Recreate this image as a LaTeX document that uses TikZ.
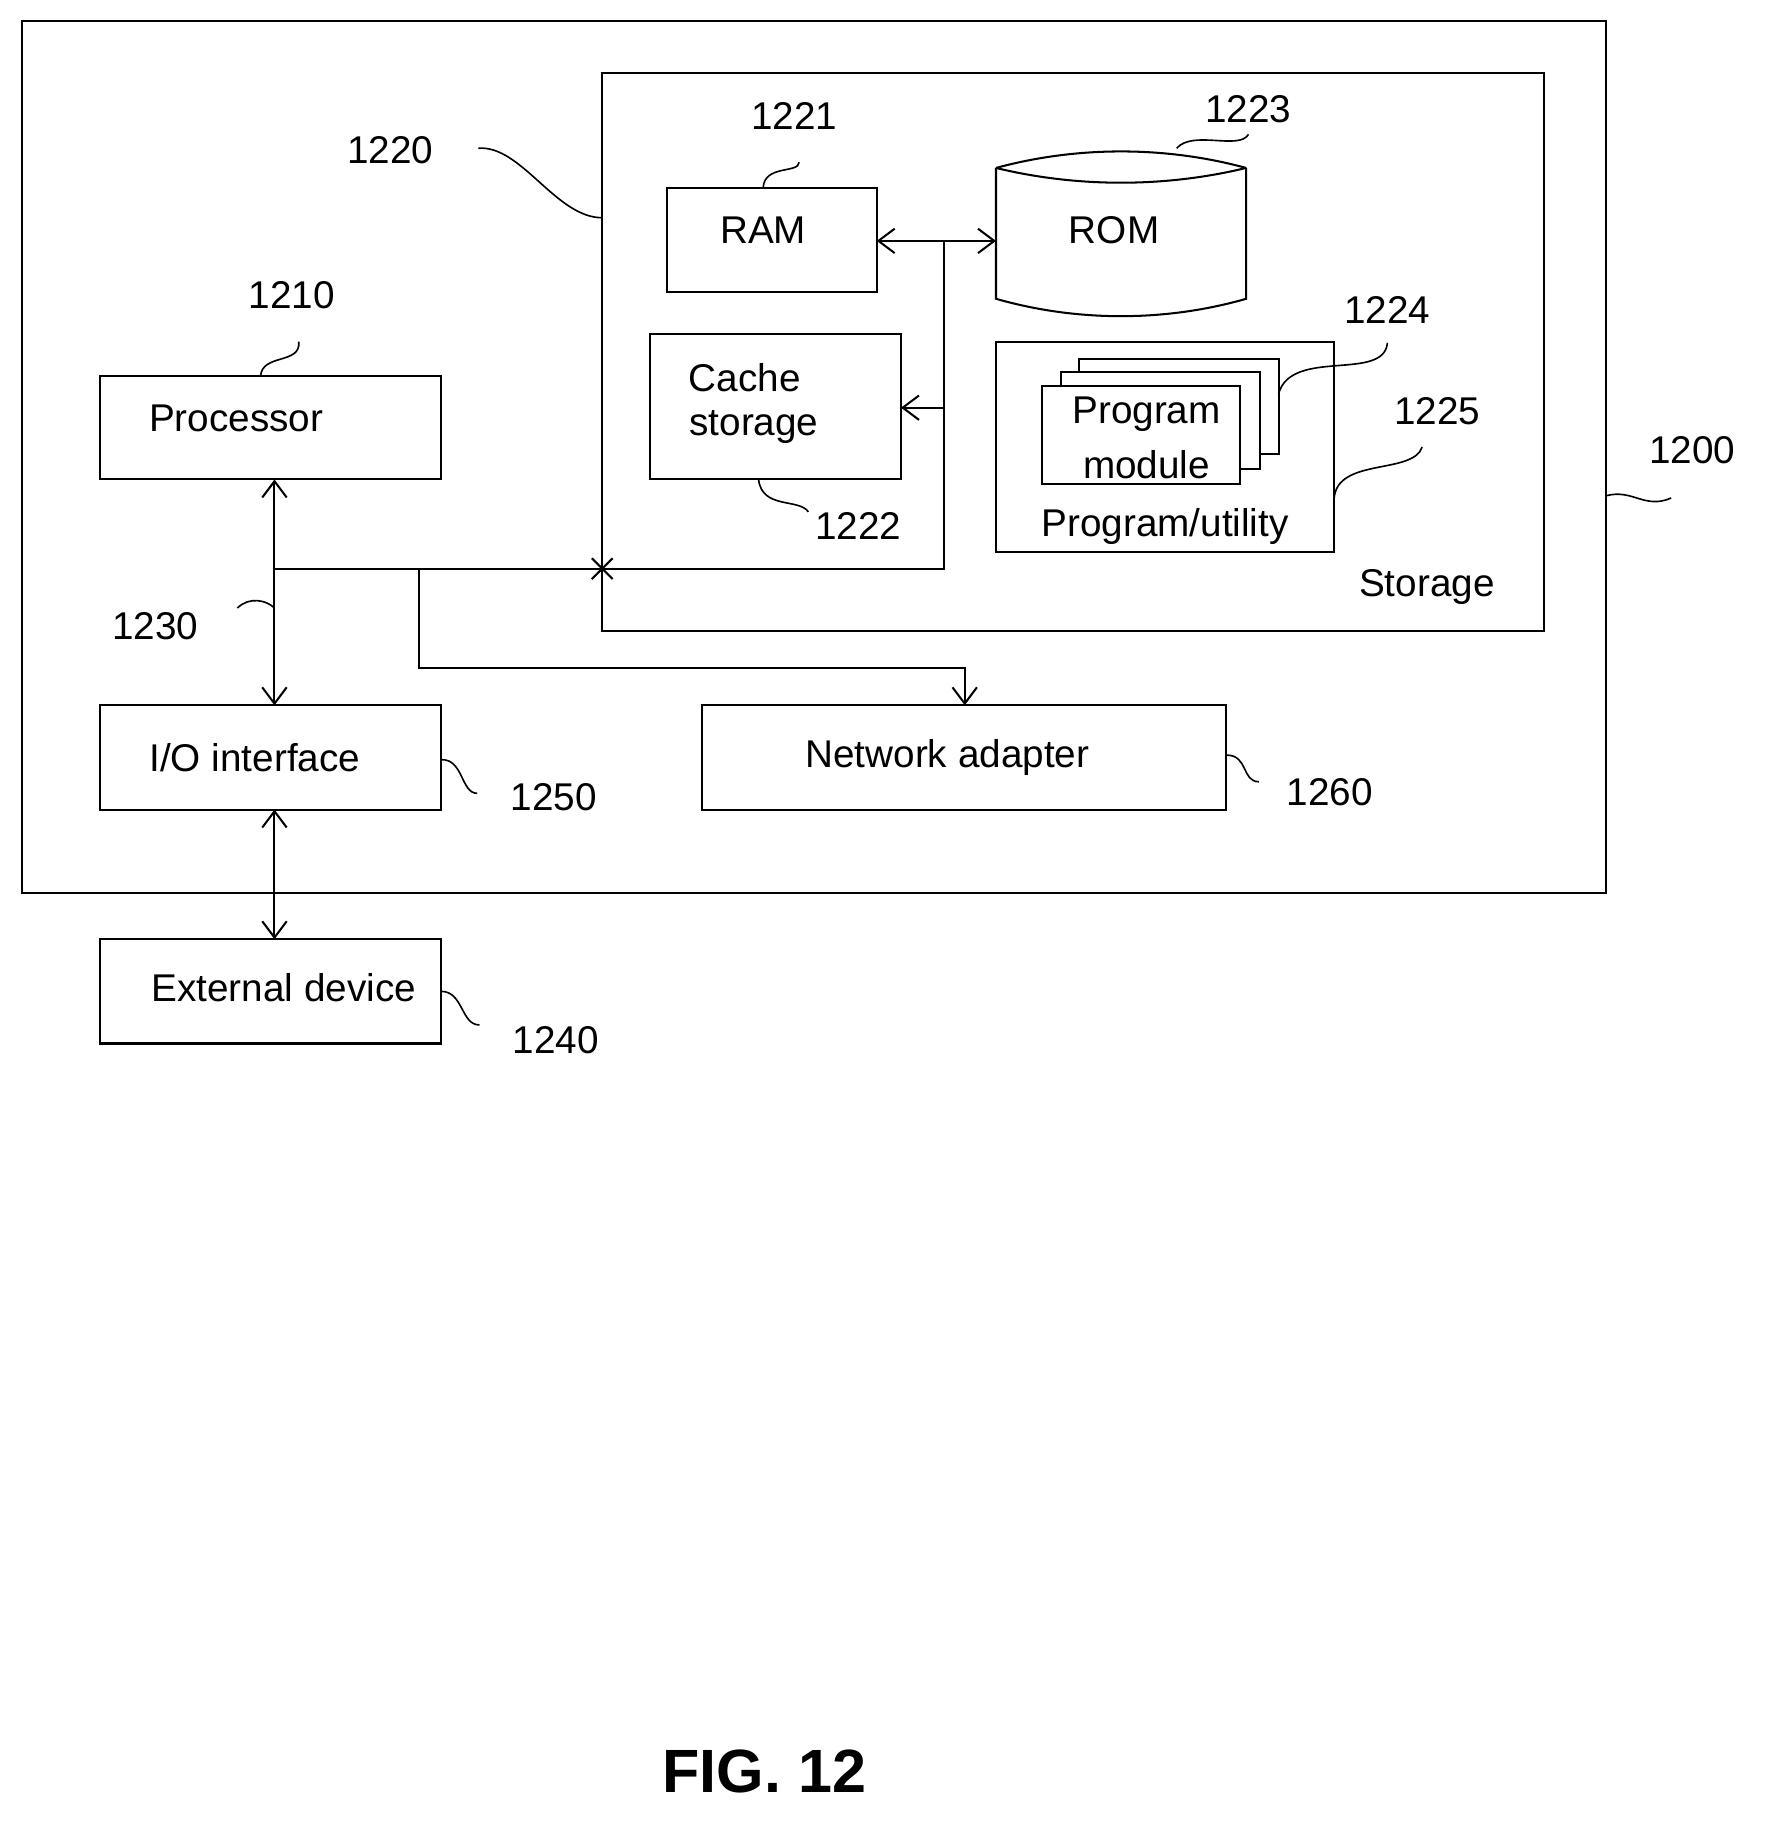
\documentclass[tikz,border=0pt]{standalone}
\usepackage{fontspec}
\setmainfont{Liberation Sans}
\usetikzlibrary{arrows.meta,calc}
\begin{document}
\begin{tikzpicture}[x=0.01cm,y=-0.01cm,
  box/.style={draw,line width=0.5pt},
  txt/.style={font=\fontsize{9.5}{11}\selectfont,inner sep=0pt},
  lbl/.style={font=\fontsize{9.5}{11}\selectfont,inner sep=0pt},
  lead/.style={line width=0.4pt},
  ln/.style={line width=0.5pt},
  arr/.style={ln,-{Straight Barb[length=4pt,width=6pt]}},
  darr/.style={ln,{Straight Barb[length=4pt,width=6pt]}-{Straight Barb[length=4pt,width=6pt]}}]
\useasboundingbox (0,0) rectangle (1530,1581);
% frames
\draw[box] (19,18) rectangle (1387,771);
\draw[box] (520,63) rectangle (1333,545);
\node[txt] (stl) at (1232,507) {Storage};
% boxes
\draw[box] (576,162) rectangle (757,252);
\coordinate (ramR) at (757,208);
\node[txt] (ramt) at (659,199) {RAM};
\draw[box] (561,288) rectangle (778,414);
\coordinate (cacheR) at (778,352);
\node[txt] (cache1) at (643,326) {Cache};
\node[txt] (cache2) at (651,369) {storage};
% ROM
\draw[box] (860,145) -- (860,258) .. controls (930,278) and (1006,278) .. (1076,258) -- (1076,145);
\draw[box] (860,145) .. controls (930,126) and (1006,126) .. (1076,145);
\draw[box] (860,145) .. controls (930,162) and (1006,162) .. (1076,145);
\coordinate (romL) at (860,208);
\node[txt] (romt) at (962,199) {ROM};
% program/utility
\draw[box] (860,295) rectangle (1152,477);
\draw[box,fill=white] (932,310) rectangle (1104,392);
\draw[box,fill=white] (916,321) rectangle (1088,405);
\draw[box,fill=white] (900,333) rectangle (1071,418);
\node[txt] (pm1) at (990,358) {Program};
\node[txt] (pm2) at (990,401) {module};
\node[txt] (pu) at (1006,455) {Program/utility};
% left boxes
\draw[box] (86,325) rectangle (381,414);
\node[txt] (proc) at (204,361) {Processor};
\draw[box] (86,609) rectangle (381,699);
\node[txt] (io) at (220,654) {I/O interface};
\draw[box] (86,811) rectangle (381,901);
\node[txt] (ext) at (245,853) {External device};
\draw[box] (606,609) rectangle (1059,699);
\node[txt] (net) at (818,654) {Network adapter};
% bus
\coordinate (procB) at (237,414);
\coordinate (ioT) at (237,609);
\coordinate (ioB) at (237,699);
\coordinate (extT) at (237,811);
\coordinate (netT) at (833,609);
\coordinate (busJ) at (237,491);
\coordinate (busE) at (815,491);
\coordinate (busTop) at (815,208);
\coordinate (cross) at (520,491);
\draw[darr] (ramR) -- (romL);
\draw[ln] (busTop) -- (busE) -- (busJ);
\draw[arr] (815,352) -- (cacheR);
\draw[darr] (procB) -- (ioT);
\draw[darr] (ioB) -- (extT);
\draw[arr] (362,491) -- (362,577) -- (833,577) -- (netT);
\draw[ln] ($(cross)+(-9,-9)$) -- ($(cross)+(9,9)$);
\draw[ln] ($(cross)+(-9,9)$) -- ($(cross)+(9,-9)$);
% labels
\node[lbl] (l1220) at (337,130) {1220};
\draw[lead] (413,128) .. controls (450,125) and (480,188) .. (520,188);
\node[lbl] (l1221) at (686,100) {1221};
\draw[lead] (690,140) .. controls (690,150) and (660,142) .. (659,162);
\node[lbl] (l1223) at (1078,94) {1223};
\draw[lead] (1078,116) .. controls (1070,130) and (1030,112) .. (1016,128);
\node[lbl] (l1210) at (252,255) {1210};
\draw[lead] (258,295) .. controls (260,315) and (226,305) .. (225,325);
\node[lbl] (l1224) at (1198,268) {1224};
\draw[lead] (1198,296) .. controls (1195,330) and (1115,300) .. (1104,340);
\node[lbl] (l1225) at (1241,355) {1225};
\draw[lead] (1228,386) .. controls (1220,410) and (1155,395) .. (1152,430);
\node[lbl] (l1200) at (1461,389) {1200};
\draw[lead] (1443,430) .. controls (1420,440) and (1410,422) .. (1387,428);
\node[lbl] (l1222) at (741,454) {1222};
\draw[lead] (655,414) .. controls (658,440) and (690,430) .. (698,442);
\node[lbl] (l1230) at (134,541) {1230};
\draw[lead] (205,525) .. controls (215,515) and (230,518) .. (237,525);
\node[lbl] (l1250) at (478,688) {1250};
\draw[lead] (381,656) .. controls (400,655) and (398,685) .. (412,685);
\node[lbl] (l1260) at (1148,684) {1260};
\draw[lead] (1059,652) .. controls (1078,652) and (1072,675) .. (1087,675);
\node[lbl] (l1240) at (480,898) {1240};
\draw[lead] (381,856) .. controls (400,856) and (398,885) .. (414,885);
\node[font=\bfseries\fontsize{15}{18}\selectfont,inner sep=0pt] (fig) at (660,1530) {FIG. 12};
\end{tikzpicture}
\end{document}
